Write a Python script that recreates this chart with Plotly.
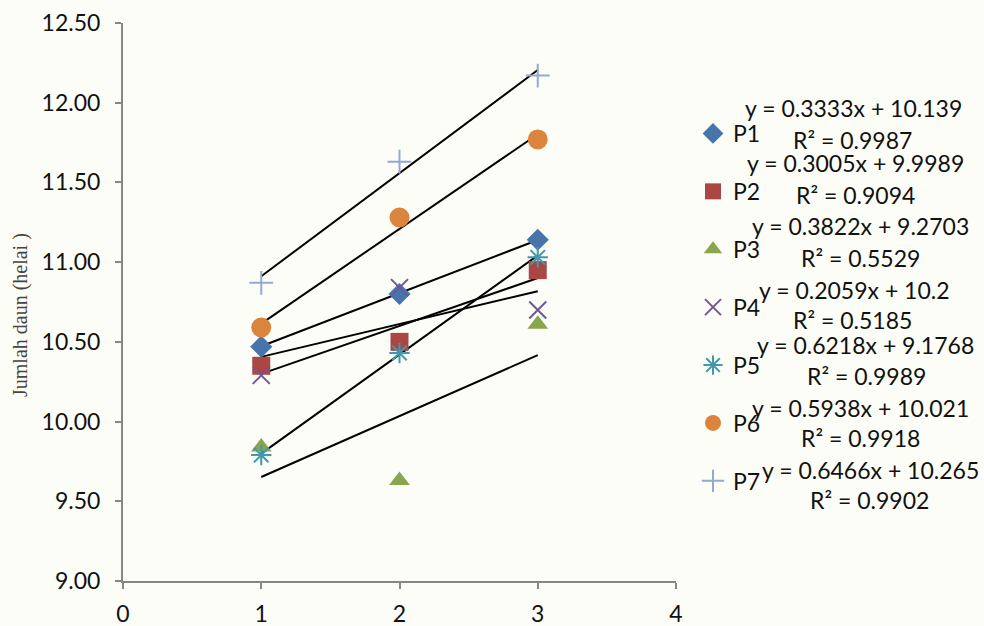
import numpy as np
import plotly.graph_objects as go

# Leaf count per treatment at three observation times
minggu = [1, 2, 3]
series_names = ["P1", "P2", "P3", "P4", "P5", "P6", "P7"]
p1 = [10.47, 10.80, 11.14]
p2 = [10.35, 10.50, 10.95]
p3 = [9.84, 9.63, 10.61]
p4 = [10.29, 10.84, 10.70]
p5 = [9.79, 10.43, 11.03]
p6 = [10.59, 11.28, 11.77]
p7 = [10.87, 11.63, 12.17]

# Linear trendline coefficients and R² as reported
slopes = [0.3333, 0.3005, 0.3822, 0.2059, 0.6218, 0.5938, 0.6466]
intercepts = [10.139, 9.9989, 9.2703, 10.2, 9.1768, 10.021, 10.265]
r_squared = ["0.9987", "0.9094", "0.5529", "0.5185", "0.9989", "0.9918", "0.9902"]
slope_labels = ["0.3333", "0.3005", "0.3822", "0.2059", "0.6218", "0.5938", "0.6466"]
intercept_labels = ["10.139", "9.9989", "9.2703", "10.2", "9.1768", "10.021", "10.265"]

y_ticks = [9.0, 9.5, 10.0, 10.5, 11.0, 11.5, 12.0, 12.5]
x_ticks = [0, 1, 2, 3, 4]

values = [p1, p2, p3, p4, p5, p6, p7]
colors = ["#4674AB", "#AA4643", "#89A54E", "#71588F", "#4198AF", "#DB843D", "#93A9CF"]
symbols = ["diamond", "square", "triangle-up", "x-thin", "asterisk", "circle", "cross-thin"]
sizes = [17, 18, 18, 17, 17, 20, 17]
line_only = [False, False, False, True, True, False, True]

W, H = 984, 626
L, R, T, B = 123, 308, 23, 45
PW, PH = W - L - R, H - T - B


def px_x(x):
    return (x - L) / PW


def px_y(y):
    return (H - B - y) / PH


FONT = "Lato, Open Sans, sans-serif"

fig = go.Figure()

# trendlines first so markers sit on top of them
for s, b in zip(slopes, intercepts):
    xs = np.array([minggu[0], minggu[-1]], dtype=float)
    fig.add_trace(go.Scatter(
        x=xs, y=s * xs + b, mode="lines",
        line=dict(color="black", width=2), showlegend=False, hoverinfo="skip"))

for i, (name, vals) in enumerate(zip(series_names, values)):
    if line_only[i]:
        marker = dict(symbol=symbols[i], size=sizes[i], color=colors[i],
                      line=dict(color=colors[i], width=2))
    else:
        marker = dict(symbol=symbols[i], size=sizes[i], color=colors[i],
                      line=dict(width=0))
    fig.add_trace(go.Scatter(
        x=minggu, y=vals, mode="markers", name=name, marker=marker,
        legendgroup=name))

# trendline equations beside the legend entries
eq_y = [108, 163, 226, 290, 345, 408, 470]
r2_y = [140, 195, 258, 320, 376, 438, 500]
eq_x = [853, 855, 860, 854, 865, 860, 870]
r2_x = [852, 855, 860, 852, 866, 860, 869]
for i in range(len(series_names)):
    fig.add_annotation(
        x=px_x(eq_x[i]), y=px_y(eq_y[i]), xref="paper", yref="paper",
        text=f"y = {slope_labels[i]}x + {intercept_labels[i]}", showarrow=False,
        xanchor="center", yanchor="middle",
        font=dict(family=FONT, size=23, color="#111111"))
    fig.add_annotation(
        x=px_x(r2_x[i]), y=px_y(r2_y[i]), xref="paper", yref="paper",
        text=f"R² = {r_squared[i]}", showarrow=False,
        xanchor="center", yanchor="middle",
        font=dict(family=FONT, size=23, color="#111111"))

# vertical axis title
fig.add_annotation(
    x=px_x(20), y=px_y(315), xref="paper", yref="paper",
    text="Jumlah daun (helai )", showarrow=False, textangle=-90,
    xanchor="center", yanchor="middle",
    font=dict(family="Liberation Serif, serif", size=20, color="#444444"))

fig.update_layout(
    width=W, height=H,
    margin=dict(l=L, r=R, t=T, b=B, autoexpand=False),
    paper_bgcolor="#fcfdf7",
    plot_bgcolor="rgba(0,0,0,0)",
    legend=dict(
        x=px_x(693), y=px_y(112), xref="paper", yref="paper",
        xanchor="left", yanchor="top",
        bgcolor="rgba(0,0,0,0)",
        font=dict(family=FONT, size=23, color="#111111"),
        tracegroupgap=25, itemwidth=30),
    xaxis=dict(
        range=[0, 4], tickvals=x_ticks, ticktext=[str(t) for t in x_ticks],
        showgrid=False, zeroline=False, showline=True, linecolor="#868686",
        linewidth=2, ticks="outside", tickcolor="#868686", ticklen=6, tickwidth=2,
        ticklabelstandoff=5, automargin=False,
        tickfont=dict(family=FONT, size=23, color="#111111")),
    yaxis=dict(
        range=[9, 12.5], tickvals=y_ticks, ticktext=[f"{t:.2f}" for t in y_ticks],
        showgrid=False, zeroline=False, showline=True, linecolor="#868686",
        linewidth=2, ticks="outside", tickcolor="#868686", ticklen=6, tickwidth=2,
        ticklabelstandoff=10, automargin=False,
        tickfont=dict(family=FONT, size=23, color="#111111")),
)

fig.write_html("out.html")
